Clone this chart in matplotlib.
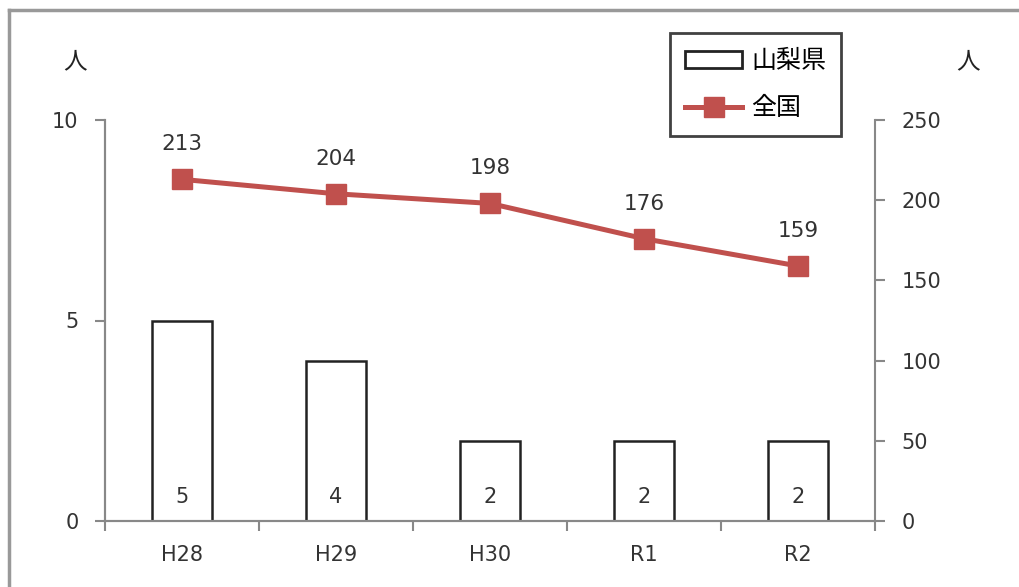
import matplotlib.pyplot as plt
from matplotlib.lines import Line2D
from matplotlib.patches import Patch

plt.rcParams['font.family'] = ['DejaVu Sans', 'Noto Sans CJK JP']

categories = ["H28", "H29", "H30", "R1", "R2"]
yamanashi = [5, 4, 2, 2, 2]
national = [213, 204, 198, 176, 159]

RED = "#C0504D"
GRAY = "#888888"
TEXT = "#333333"

fig = plt.figure(figsize=(10.2, 5.87), dpi=100)
ax = fig.add_axes([105 / 1020, 1 - 521 / 587, 770 / 1020, 401 / 587])
ax2 = ax.twinx()

x = list(range(len(categories)))
ax.bar(x, yamanashi, width=0.39, color="white", edgecolor="#222222", linewidth=1.8, zorder=2)
for xi, v in zip(x, yamanashi):
    ax.text(xi, 0.6, str(v), ha="center", va="center", fontsize=15, color=TEXT)

ax.set_xlim(-0.5, len(categories) - 0.5)
ax.set_ylim(0, 10)
ax.set_yticks([0, 5, 10])
ax.set_xticks(x)
ax.set_xticklabels(categories)
ax.set_xticks([i - 0.5 for i in range(len(categories) + 1)], minor=True)
ax.tick_params(axis="x", which="major", length=0, pad=17, labelsize=15, labelcolor=TEXT)
ax.tick_params(axis="x", which="minor", length=7, width=1.5, color=GRAY, direction="out")
ax.tick_params(axis="y", length=7, width=1.5, color=GRAY, labelsize=15, labelcolor=TEXT, pad=12)

ax2.plot(x, national, color=RED, linewidth=3.6, marker="s", markersize=15, zorder=3)
for xi, v in zip(x, national):
    ax2.annotate(str(v), (xi, v), xytext=(0, 21), textcoords="offset points",
                 ha="center", va="baseline", fontsize=15.5, color=TEXT)
ax2.set_ylim(0, 250)
ax2.set_yticks(range(0, 251, 50))
ax2.tick_params(axis="y", length=7, width=1.5, color=GRAY, labelsize=15, labelcolor=TEXT, pad=12)

for a in (ax, ax2):
    a.spines["top"].set_visible(False)
    for s in ("left", "right", "bottom"):
        a.spines[s].set_color(GRAY)
        a.spines[s].set_linewidth(1.5)
ax.spines["right"].set_visible(False)

fig.text(75 / 1020, 1 - 62 / 587, "人", ha="center", va="center", fontsize=17,
         color="#222222", family="Noto Sans CJK JP")
fig.text(968 / 1020, 1 - 62 / 587, "人", ha="center", va="center", fontsize=17,
         color="#222222", family="Noto Sans CJK JP")

handles = [
    Patch(facecolor="white", edgecolor="#222222", linewidth=2),
    Line2D([0], [0], color=RED, linewidth=3.6, marker="s", markersize=15),
]
leg = fig.legend(handles, ["山梨県", "全国"], loc="upper left",
                 bbox_to_anchor=(670 / 1020, 1 - 33 / 587),
                 prop={"family": "Noto Sans CJK JP", "size": 18},
                 frameon=True, fancybox=False, edgecolor="#111111",
                 handlelength=2.3, handleheight=0.65, labelspacing=0.85,
                 borderpad=0.6, handletextpad=0.35, borderaxespad=0)
leg.get_frame().set_linewidth(2)

fig.add_artist(Line2D([9 / 1020, 9 / 1020], [0, 1 - 10 / 587], color="#999999", linewidth=2.5,
                      transform=fig.transFigure))
fig.add_artist(Line2D([9 / 1020, 1], [1 - 10 / 587, 1 - 10 / 587], color="#999999", linewidth=2.5,
                      transform=fig.transFigure))

fig.savefig("out.png", dpi=100)
